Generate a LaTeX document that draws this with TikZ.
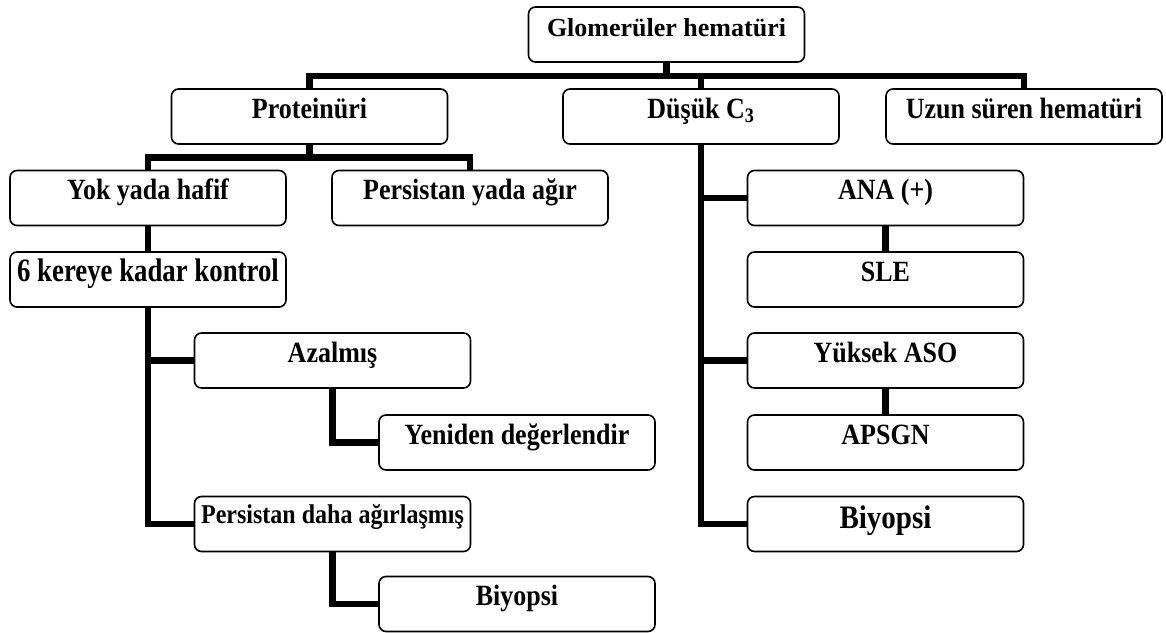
\documentclass[tikz,border=0pt]{standalone}
\usepackage{fontspec}
\usepackage{graphicx}
\setmainfont{Liberation Serif}
\newcommand{\vstr}[1]{\scalebox{1}[1.13]{#1}}
\newcommand{\vstrb}[1]{\scalebox{1}[1.22]{#1}}
\begin{document}
\begin{tikzpicture}[x=1pt,y=-1pt,
  box/.style={draw, line width=1.6pt, rounded corners=7pt, minimum width=276pt,
    minimum height=55pt, inner sep=0pt, text height=20pt, text depth=17pt,
    align=center, font=\bfseries\fontsize{26}{28}\selectfont},
  conn/.style={line width=6.5pt}]
\useasboundingbox (0,0) rectangle (1166,632);
% boxes
\node[box] (G)   at (666.5,34.5) {Glomerüler hematüri};
\node[box] (P)   at (309.5,116.5) {\vstr{Proteinüri}};
\node[box] (D)   at (701,116.5) {\vstr{Düşük C\textsubscript{3}}};
\node[box] (U)   at (1024,116.5) {\vstr{Uzun süren hematüri}};
\node[box] (Y)   at (148,198) {\vstr{Yok yada hafif}};
\node[box] (PA)  at (470,198) {\vstr{Persistan yada ağır}};
\node[box, font=\bfseries\fontsize{26.8}{28}\selectfont] (K) at (148,279.5) {\vstrb{6 kereye kadar kontrol}};
\node[box] (A)   at (332.5,360.5) {\vstr{Azalmış}};
\node[box] (R)   at (517,442.5) {\vstr{Yeniden değerlendir}};
\node[box, font=\bfseries\fontsize{24}{26}\selectfont, text height=18pt, text depth=19pt] (PD) at (332.5,524) {\vstr{Persistan daha ağırlaşmış}};
\node[box] (B1)  at (517,604) {\vstr{Biyopsi}};
\node[box] (ANA) at (885.5,198) {\vstr{ANA (+)}};
\node[box] (SLE) at (885.5,279.5) {\vstr{SLE}};
\node[box] (ASO) at (885.5,360.5) {\vstr{Yüksek ASO}};
\node[box] (APS) at (885.5,442.5) {\vstr{APSGN}};
\node[box, font=\bfseries\fontsize{29}{31}\selectfont, text height=23pt, text depth=14pt] (B2) at (885.5,524) {\vstr{Biyopsi}};
% connectors
\coordinate (g1) at (666.5,76);
\coordinate (p1) at (309.5,157.5);
\draw[conn] (G.south) -- (G.south |- g1);
\draw[conn] (P.north) |- (U.north |- g1) -- (U.north);
\draw[conn] (D.north |- g1) -- (D.north);
\draw[conn] (P.south) -- (P.south |- p1);
\draw[conn] (Y.north) |- (PA.north |- p1) -- (PA.north);
\draw[conn] (Y.south) -- (K.north);
\draw[conn] (K.south) |- (PD.west);
\draw[conn] (K.south |- A.west) -- (A.west);
\draw[conn] (A.south) |- (R.west);
\draw[conn] (PD.south) |- (B1.west);
\draw[conn] (D.south) |- (B2.west);
\draw[conn] (D.south |- ANA.west) -- (ANA.west);
\draw[conn] (D.south |- ASO.west) -- (ASO.west);
\draw[conn] (ANA.south) -- (SLE.north);
\draw[conn] (ASO.south) -- (APS.north);
\end{tikzpicture}
\end{document}
